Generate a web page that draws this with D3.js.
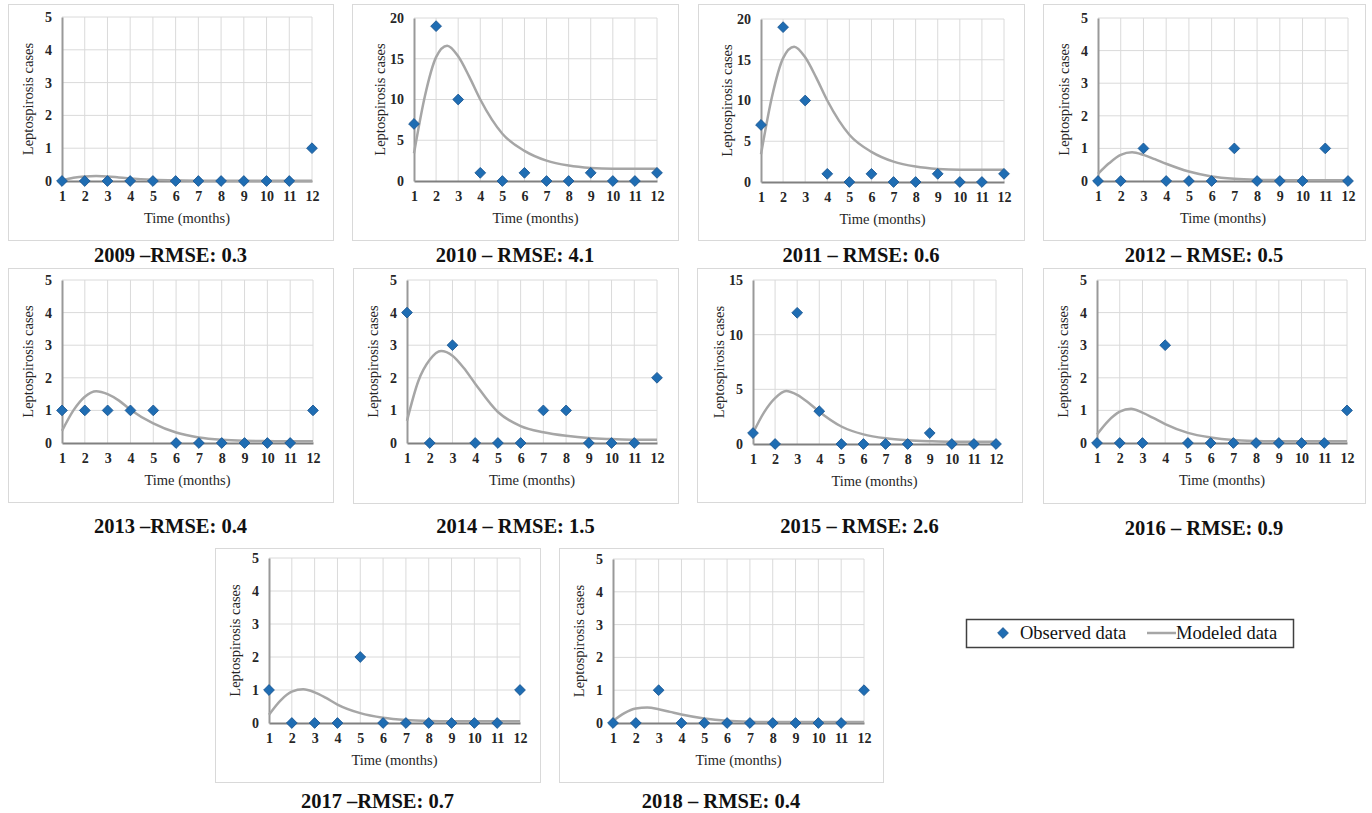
<!DOCTYPE html>
<html>
<head>
<meta charset="utf-8">
<script src="https://cdn.jsdelivr.net/npm/d3@7"></script>
<style>
  body { margin: 0; background: #fff; }
  svg text { font-family: "Liberation Serif", "Times New Roman", serif; }
</style>
</head>
<body>
<div id="chart"></div>
<script>
// ---- data ----
var months = [1, 2, 3, 4, 5, 6, 7, 8, 9, 10, 11, 12];
var titles = ["2009 \u2013RMSE: 0.3", "2010 \u2013 RMSE: 4.1", "2011 \u2013 RMSE: 0.6", "2012 \u2013 RMSE: 0.5",
              "2013 \u2013RMSE: 0.4", "2014 \u2013 RMSE: 1.5", "2015 \u2013 RMSE: 2.6", "2016 \u2013 RMSE: 0.9",
              "2017 \u2013RMSE: 0.7", "2018 \u2013 RMSE: 0.4"];
var yMax  = [5, 20, 20, 5, 5, 5, 15, 5, 5, 5];
var yStep = [1, 5, 5, 1, 1, 1, 5, 1, 1, 1];

// observed monthly cases
var obs2009 = [0, 0, 0, 0, 0, 0, 0, 0, 0, 0, 0, 1];
var obs2010 = [7, 19, 10, 1, 0, 1, 0, 0, 1, 0, 0, 1];
var obs2011 = [7, 19, 10, 1, 0, 1, 0, 0, 1, 0, 0, 1];
var obs2012 = [0, 0, 1, 0, 0, 0, 1, 0, 0, 0, 1, 0];
var obs2013 = [1, 1, 1, 1, 1, 0, 0, 0, 0, 0, 0, 1];
var obs2014 = [4, 0, 3, 0, 0, 0, 1, 1, 0, 0, 0, 2];
var obs2015 = [1, 0, 12, 3, 0, 0, 0, 0, 1, 0, 0, 0];
var obs2016 = [0, 0, 0, 3, 0, 0, 0, 0, 0, 0, 0, 1];
var obs2017 = [1, 0, 0, 0, 2, 0, 0, 0, 0, 0, 0, 1];
var obs2018 = [0, 0, 1, 0, 0, 0, 0, 0, 0, 0, 0, 1];

// modeled curve, sampled at these times
var modelT = [1, 1.5, 2, 2.5, 3, 3.5, 4, 5, 6, 7, 8, 9, 10, 11, 12];
var mod2009 = [0.02, 0.10, 0.14, 0.15, 0.14, 0.11, 0.08, 0.04, 0.02, 0.01, 0.01, 0.01, 0.01, 0.01, 0.01];
var mod2010 = [3.4, 10.5, 15.2, 16.6, 15.3, 12.8, 10.0, 5.8, 3.7, 2.5, 1.9, 1.6, 1.5, 1.5, 1.5];
var mod2011 = [3.4, 10.5, 15.2, 16.6, 15.3, 12.8, 10.0, 5.8, 3.7, 2.5, 1.9, 1.6, 1.5, 1.5, 1.5];
var mod2012 = [0.22, 0.55, 0.80, 0.88, 0.80, 0.67, 0.53, 0.29, 0.14, 0.07, 0.04, 0.03, 0.02, 0.02, 0.02];
var mod2013 = [0.37, 1.00, 1.42, 1.59, 1.50, 1.30, 1.02, 0.60, 0.32, 0.17, 0.10, 0.07, 0.06, 0.05, 0.05];
var mod2014 = [0.68, 1.90, 2.55, 2.82, 2.68, 2.30, 1.82, 0.95, 0.52, 0.33, 0.22, 0.15, 0.12, 0.10, 0.10];
var mod2015 = [1.0, 2.9, 4.2, 4.85, 4.5, 3.8, 2.95, 1.6, 0.88, 0.52, 0.34, 0.25, 0.2, 0.2, 0.2];
var mod2016 = [0.26, 0.68, 0.96, 1.05, 0.93, 0.76, 0.58, 0.31, 0.17, 0.09, 0.06, 0.05, 0.05, 0.05, 0.05];
var mod2017 = [0.25, 0.68, 0.95, 1.02, 0.93, 0.76, 0.56, 0.30, 0.16, 0.09, 0.06, 0.05, 0.05, 0.05, 0.05];
var mod2018 = [0.06, 0.30, 0.44, 0.47, 0.42, 0.34, 0.26, 0.14, 0.07, 0.04, 0.03, 0.03, 0.03, 0.03, 0.03];

var observed = [obs2009, obs2010, obs2011, obs2012, obs2013, obs2014, obs2015, obs2016, obs2017, obs2018];
var modeled  = [mod2009, mod2010, mod2011, mod2012, mod2013, mod2014, mod2015, mod2016, mod2017, mod2018];

// ---- layout (frame box + plot area + caption baseline per panel) ----
var layout = [
  { fx: 8,    fy: 4,   fw: 325, fh: 236, l: 62,   r: 312,  t: 17,  b: 181, ty: 262 },
  { fx: 352,  fy: 4,   fw: 326, fh: 236, l: 414,  r: 657,  t: 18,  b: 181, ty: 262 },
  { fx: 698,  fy: 4,   fw: 326, fh: 236, l: 761,  r: 1004, t: 19,  b: 182, ty: 262 },
  { fx: 1043, fy: 4,   fw: 322, fh: 236, l: 1098, r: 1348, t: 18,  b: 181, ty: 262 },
  { fx: 8,    fy: 268, fw: 325, fh: 234, l: 62,   r: 313,  t: 280, b: 443, ty: 533 },
  { fx: 353,  fy: 268, fw: 325, fh: 235, l: 407,  r: 657,  t: 280, b: 443, ty: 533 },
  { fx: 697,  fy: 268, fw: 325, fh: 234, l: 753,  r: 996,  t: 280, b: 444, ty: 533 },
  { fx: 1043, fy: 268, fw: 322, fh: 235, l: 1097, r: 1347, t: 280, b: 443, ty: 535 },
  { fx: 215,  fy: 548, fw: 325, fh: 234, l: 269,  r: 520,  t: 558, b: 723, ty: 808 },
  { fx: 559,  fy: 548, fw: 324, fh: 234, l: 613,  r: 864,  t: 559, b: 723, ty: 808 }
];

var blue = "#1f6db3", blueEdge = "#1a5590", grey = "#a6a6a6";
var serif = "Liberation Serif";

var svg = d3.select("#chart").append("svg")
    .attr("width", 1372)
    .attr("height", 813);

var diamond = d3.symbol().type(d3.symbolSquare).size(58);

layout.forEach(function(p, i){
    var g = svg.append("g");

    // panel frame
    g.append("rect")
        .attr("x", p.fx + 0.5).attr("y", p.fy + 0.5)
        .attr("width", p.fw).attr("height", p.fh)
        .attr("fill", "#fff")
        .attr("stroke", "#d9d9d9");

    var x = d3.scaleLinear().domain([1, 12]).range([p.l, p.r]);
    var y = d3.scaleLinear().domain([0, yMax[i]]).range([p.b, p.t]);
    var yTicks = d3.range(0, yMax[i] + 0.001, yStep[i]);

    // gridlines
    g.append("g").selectAll("line")
        .data(yTicks.slice(1))
        .enter().append("line")
        .attr("x1", p.l).attr("x2", p.r)
        .attr("y1", function(d){ return y(d); })
        .attr("y2", function(d){ return y(d); })
        .attr("stroke", "#dadada");
    g.append("g").selectAll("line")
        .data(months.slice(1))
        .enter().append("line")
        .attr("x1", function(d){ return x(d); })
        .attr("x2", function(d){ return x(d); })
        .attr("y1", p.t).attr("y2", p.b)
        .attr("stroke", "#dadada");

    // axes
    var xAxis = g.append("g")
        .attr("transform", "translate(0," + p.b + ")")
        .call(d3.axisBottom(x).tickValues(months).tickSize(0).tickPadding(10).tickFormat(d3.format("d")));
    xAxis.attr("font-family", serif).attr("font-size", 14);
    xAxis.select(".domain").attr("stroke", "#808080").attr("stroke-width", 2);
    xAxis.selectAll("text").attr("font-weight", "bold").attr("fill", "#262626");

    var yAxis = g.append("g")
        .attr("transform", "translate(" + p.l + ",0)")
        .call(d3.axisLeft(y).tickValues(yTicks).tickSize(0).tickPadding(10).tickFormat(d3.format("d")));
    yAxis.attr("font-family", serif).attr("font-size", 14);
    yAxis.select(".domain").attr("stroke", "#999").attr("stroke-width", 2);
    yAxis.selectAll("text").attr("font-weight", "bold").attr("fill", "#262626");

    // axis titles
    g.append("text")
        .attr("transform", "translate(" + (p.l - 29) + "," + ((p.t + p.b) / 2) + ") rotate(-90)")
        .attr("text-anchor", "middle")
        .attr("font-family", serif)
        .attr("font-size", "14.5px")
        .attr("fill", "#262626")
        .text("Leptospirosis cases");
    g.append("text")
        .attr("x", (p.l + p.r) / 2)
        .attr("y", p.b + 42)
        .attr("text-anchor", "middle")
        .attr("font-family", serif)
        .attr("font-size", "14.5px")
        .attr("fill", "#262626")
        .text("Time (months)");

    // modeled line
    var line = d3.line()
        .x(function(d){ return x(d[0]); })
        .y(function(d){ return y(d[1]); })
        .curve(d3.curveMonotoneX);
    g.append("path")
        .datum(d3.zip(modelT, modeled[i]))
        .attr("fill", "none")
        .attr("stroke", grey)
        .attr("stroke-width", 2.5)
        .attr("d", line);

    // observed points
    g.append("g").selectAll("path")
        .data(d3.zip(months, observed[i]))
        .enter().append("path")
        .attr("d", diamond)
        .attr("transform", function(d){ return "translate(" + x(d[0]) + "," + y(d[1]) + ") rotate(45)"; })
        .attr("fill", blue)
        .attr("stroke", blueEdge)
        .attr("stroke-width", 0.8);

    // panel caption
    svg.append("text")
        .attr("x", p.fx + p.fw / 2)
        .attr("y", p.ty)
        .attr("text-anchor", "middle")
        .attr("font-family", serif)
        .attr("font-size", "20.5px")
        .attr("font-weight", "bold")
        .attr("fill", "#111")
        .text(titles[i]);
});

// legend
var leg = svg.append("g");
leg.append("rect")
    .attr("x", 966.5).attr("y", 619.5)
    .attr("width", 327).attr("height", 28)
    .attr("fill", "#fff")
    .attr("stroke", "#404040")
    .attr("stroke-width", 1.5);
leg.append("path")
    .attr("d", diamond)
    .attr("transform", "translate(1003,633) rotate(45)")
    .attr("fill", blue)
    .attr("stroke", blueEdge)
    .attr("stroke-width", 0.8);
leg.append("text")
    .attr("x", 1020).attr("y", 639)
    .attr("font-family", serif)
    .attr("font-size", "18.5px")
    .attr("fill", "#111")
    .text("Observed data");
leg.append("line")
    .attr("x1", 1147).attr("x2", 1176)
    .attr("y1", 633).attr("y2", 633)
    .attr("stroke", grey)
    .attr("stroke-width", 2.5);
leg.append("text")
    .attr("x", 1176).attr("y", 639)
    .attr("font-family", serif)
    .attr("font-size", "18.5px")
    .attr("fill", "#111")
    .text("Modeled data");
</script>
</body>
</html>
